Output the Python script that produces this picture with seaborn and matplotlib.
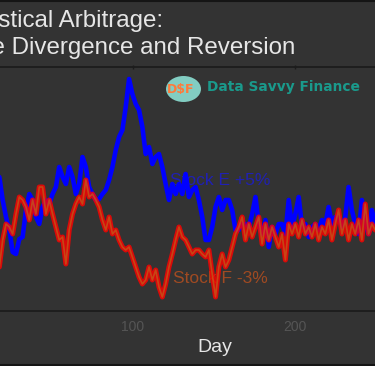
import numpy as np
import pandas as pd
import matplotlib
matplotlib.use("Agg")
import matplotlib.pyplot as plt
import seaborn as sns
from matplotlib.patches import Ellipse
from matplotlib.lines import Line2D

# ==========================================
# COLORS
# ==========================================
BG_DARK     = "#333333"
SPINE_DARK  = "#1c1c1c"
TITLE_GREY  = "#e6e6e6"
TICK_GREY   = "#555555"
STOCK_E_COL = "#0000ff"
STOCK_F_COL = "#ff0000"
STOCK_F_MID = "#c0601a"
LOGO_TEAL   = "#1a9a8c"
LOGO_FILL   = "#82cdc2"
LOGO_ORANGE = "#ff7a3a"

# ==========================================
# DATA
# ==========================================
stock_e = [
    101.2, 98.9, 97.2, 95.9, 93.7, 93.5, 95.0, 95.2, 97.9, 99.5,
    98.9, 97.2, 96.5, 98.2, 98.9, 98.5, 99.5, 100.2, 102.2, 101.2,
    100.5, 102.2, 101.2, 99.5, 100.5, 103.2, 102.2, 100.2, 99.5, 98.9,
    99.0, 99.5, 99.9, 100.9, 102.2, 103.9, 105.2, 105.9, 108.2, 111.0,
    109.5, 108.5, 107.9, 106.2, 103.5, 104.2, 102.5, 103.2, 103.5, 102.2,
    100.5, 98.9, 100.5, 99.5, 100.5, 99.5, 101.5,
    99.2, 99.9, 100.2, 98.9, 97.2, 94.9, 94.9, 96.2, 98.2, 99.2,
    97.9, 98.9, 98.9, 97.9, 95.9, 95.9, 96.5, 96.5, 96.2, 97.5,
    99.2, 96.5, 95.5, 96.9, 94.2, 96.2, 95.5, 96.5, 96.5, 95.5,
    98.9, 96.2, 97.5, 99.2, 96.2, 96.5, 95.2, 96.2, 96.5, 95.9,
    96.9, 96.5, 98.2, 96.5, 97.2, 97.2, 96.2, 97.2, 100.2, 97.9,
    96.5, 95.5, 98.9, 96.5, 95.5, 97.9, 96.5,
]
stock_f = [
    92.2, 94.9, 96.5, 96.2, 95.5, 97.5, 99.2, 98.9, 98.2, 96.9,
    98.9, 97.5, 100.2, 100.2, 97.5, 98.9, 97.5, 96.2, 94.9, 95.2,
    92.5, 95.9, 97.5, 98.5, 99.2, 98.5, 100.9, 99.2, 99.5, 98.9,
    98.2, 96.9, 95.9, 97.2, 95.5, 95.9, 94.9, 94.2, 93.9, 94.2,
    93.2, 92.2, 91.2, 90.5, 90.9, 92.2, 90.9, 91.9, 90.2, 89.2,
    90.5, 92.2, 93.5, 94.9, 96.2, 95.2, 94.9,
    94.2, 93.5, 93.9, 93.9, 93.5, 93.2, 93.9, 91.5, 89.2, 92.2,
    93.5, 92.2, 92.9, 94.2, 95.5, 96.2, 97.2, 94.9, 96.5, 95.2,
    96.2, 97.2, 94.5, 96.5, 94.9, 96.2, 95.2, 94.2, 95.5, 92.9,
    96.5, 95.5, 96.5, 95.2, 96.9, 95.5, 96.2, 95.2, 96.5, 94.9,
    96.2, 95.5, 96.9, 94.9, 96.5, 97.9, 95.5, 96.9, 94.9, 96.5,
    95.5, 96.9, 94.9, 98.5, 95.5, 96.5, 95.9,
]
days = np.linspace(17.5, 249.5, len(stock_e))
x_ticks = [100, 200]

df = pd.DataFrame({"day": days, "stock_e": stock_e, "stock_f": stock_f})

# ==========================================
# STYLE
# ==========================================
sns.set_theme(style="dark", rc={
    "figure.facecolor": BG_DARK,
    "axes.facecolor": BG_DARK,
})
plt.rcParams["font.family"] = ["Liberation Sans", "DejaVu Sans"]

fig = plt.figure(figsize=(3.75, 3.66), dpi=100)
fig.patch.set_facecolor(BG_DARK)
ax = fig.add_axes([-29 / 375, 55 / 366, 405 / 375, 244 / 366])
ax.set_facecolor(BG_DARK)

# text labels sit under the lines
ax.text(122.8, 100.4, "Stock E +5%", color="#2020b4", fontsize=12.5, zorder=1)
ax.text(124.5, 90.6, "Stock F -3%", color="#a04a22", fontsize=12.5, zorder=1)

sns.lineplot(data=df, x="day", y="stock_e", color=STOCK_E_COL, lw=3.3, ax=ax, zorder=2)
sns.lineplot(data=df, x="day", y="stock_f", color=STOCK_F_COL, lw=3.6, alpha=0.82, ax=ax, zorder=3)
sns.lineplot(data=df, x="day", y="stock_f", color=STOCK_F_MID, lw=1.2, alpha=0.7, ax=ax, zorder=4)

ax.set_xlim(0, 250)
ax.set_ylim(87.8, 112.2)
ax.set_yticks([])
ax.set_ylabel("")
ax.set_xticks(x_ticks)
ax.set_xticklabels([str(t) for t in x_ticks])
ax.tick_params(axis="x", colors=TICK_GREY, labelsize=10, length=3, width=1,
               direction="inout", top=True, pad=5)
ax.tick_params(axis="x", which="both", color=SPINE_DARK)
for side in ["left", "right"]:
    ax.spines[side].set_visible(False)
for side in ["top", "bottom"]:
    ax.spines[side].set_visible(True)
    ax.spines[side].set_color(SPINE_DARK)
    ax.spines[side].set_linewidth(1.3)
ax.grid(False)

ax.set_xlabel("Day", fontsize=14, color=TITLE_GREY)
ax.xaxis.label.set_va("baseline")
ax.xaxis.set_label_coords(0.6025, -0.169)

# ==========================================
# TITLE (left aligned, starts off the left edge)
# ==========================================
fig.text(-50 / 375, 0.927, "Statistical Arbitrage:", ha="left", va="baseline",
         fontsize=17.4, color=TITLE_GREY)
fig.text(-50 / 375, 0.852, "Price Divergence and Reversion", ha="left", va="baseline",
         fontsize=17.4, color=TITLE_GREY)

# ==========================================
# LOGO
# ==========================================
fig.add_artist(Ellipse((183.5 / 375, 1 - 89 / 366), 35 / 375, 26 / 366,
                       transform=fig.transFigure, facecolor=LOGO_FILL,
                       edgecolor="none", zorder=5))
fig.text(181 / 375, 1 - 89 / 366, "D$F", ha="center", va="center",
         fontsize=9, fontweight="bold", color=LOGO_ORANGE,
         family="DejaVu Sans", zorder=6)
fig.text(207 / 375, 1 - 87 / 366, "Data Savvy Finance", ha="left", va="center",
         fontsize=9.9, fontweight="bold", color=LOGO_TEAL,
         family="DejaVu Sans", zorder=6)

# frame lines at top and bottom of the image
fig.add_artist(Line2D([0, 1], [0.998, 0.998], transform=fig.transFigure,
                      color="#151515", lw=1.5))
fig.add_artist(Line2D([0, 1], [0.004, 0.004], transform=fig.transFigure,
                      color="#151515", lw=1.5))

plt.savefig("out.png", dpi=100, facecolor=BG_DARK)
plt.close()
